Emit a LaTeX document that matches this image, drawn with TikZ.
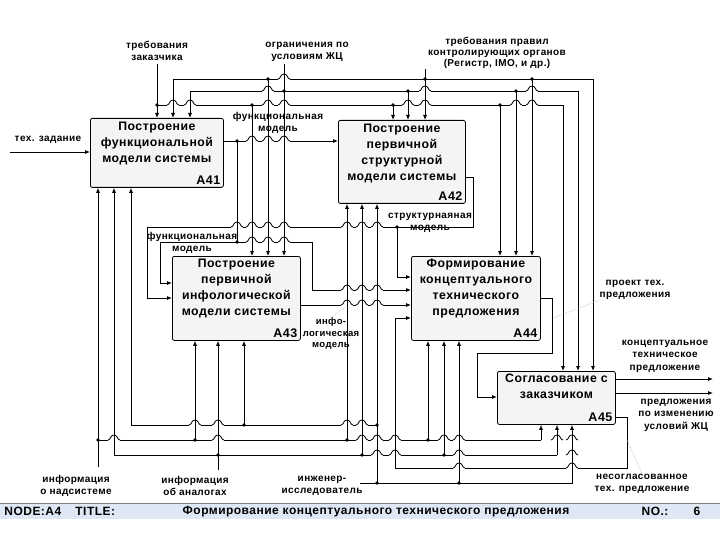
\documentclass[tikz,border=0pt]{standalone}
\usepackage{fontspec}
\setmainfont{Liberation Sans}[LetterSpace=4]
\usepackage{xcolor}
\usetikzlibrary{arrows.meta}
\usetikzlibrary{positioning}
\definecolor{band}{HTML}{DDE8F4}
\definecolor{boxfill}{HTML}{F4F4F4}

\tikzset{
  blk/.style={draw, fill=boxfill, rounded corners=2pt, anchor=north west, inner sep=0pt},
  ttl/.style={font=\fontsize{12.3}{15.8}\selectfont\bfseries, align=center, anchor=north, inner sep=0pt},
  anum/.style={font=\fontsize{12.5}{15}\selectfont\bfseries, anchor=south east, inner sep=3pt},
  lbl/.style={font=\fontsize{10}{12.5}\selectfont\bfseries, align=center, inner sep=0pt},
  ftr/.style={font=\fontsize{12}{14}\selectfont\bfseries, inner sep=0pt},
  arr/.style={-{Latex[length=5pt,width=4pt]}},
  lead/.style={gray!60, densely dotted, line width=0.6pt},
}

% bridge over a crossing line
\newcommand{\hmp}[2]{%
  \fill[white] ({#1-6},{#2-1.2}) rectangle ({#1+6},{#2+1.2});
  \draw ({#1-6},#2) .. controls ({#1-3},#2) and ({#1-4},{#2-5}) .. (#1,{#2-5})
        .. controls ({#1+4},{#2-5}) and ({#1+3},#2) .. ({#1+6},#2);
  \draw (#1,{#2-8}) -- (#1,{#2+3});}

\begin{document}
\begin{tikzpicture}[x=1pt, y=-1pt, line width=0.8pt]
  \useasboundingbox (0,0) rectangle (720,540);

  %boxes
  \node[blk, minimum width=133pt, minimum height=69pt] (A41) at (90,118) {};
  \node[blk, minimum width=127pt, minimum height=83pt] (A42) at (338,120) {};
  \node[blk, minimum width=128pt, minimum height=84pt] (A43) at (172,256) {};
  \node[blk, minimum width=129pt, minimum height=84pt] (A44) at (411,256) {};
  \node[blk, minimum width=118pt, minimum height=53pt] (A45) at (497,371) {};

  \node[ttl, below=4pt of A41.north] (t41) {Построение\\функциональной\\модели системы};
  \node[ttl, below=4pt of A42.north] (t42) {Построение\\первичной\\структурной\\модели системы};
  \node[ttl, below=3pt of A43.north] (t43) {Построение\\первичной\\инфологической\\модели системы};
  \node[ttl, below=3pt of A44.north] (t44) {Формирование\\концептуального\\технического\\предложения};
  \node[ttl, below=3pt of A45.north] (t45) {Согласование с\\заказчиком};
  \foreach \b in {41,42,43,44,45}
    \node[anum] (n\b) at (A\b.south east) {A\b};

  %controls
  \draw (157,64) -- (157,105) -- (563,105);
  \draw (173,79) -- (593,79);
  \draw (425,69) -- (425,79);
  \draw (284,64) -- (284,91);
  \draw (190,91) -- (578,91);
  \foreach \x/\b in {157/A41, 252/A43, 393/A42, 500/A44, 563/A45}
    \draw[arr] (\x,105) -- (\x,0 |- \b.north);
  \foreach \x/\b in {173/A41, 268/A43, 425/A42, 532/A44, 593/A45}
    \draw[arr] (\x,79) -- (\x,0 |- \b.north);
  \foreach \x/\b in {190/A41, 284/A43, 408/A42, 516/A44, 578/A45}
    \draw[arr] (\x,91) -- (\x,0 |- \b.north);

  %inputs and outputs
  \draw[arr] (10,152) -- (A41.west |- 0,152);
  \draw[arr] (A41.east |- 0,141) -- (A42.west |- 0,141);
  \draw (237,141) -- (237,242);
  \draw (312,242) -- (160,242);
  \draw[arr] (160,242) -- (160,283) -- (A43.west |- 0,283);
  \draw[arr] (312,242) -- (312,290) -- (A44.west |- 0,290);
  \draw (A42.east |- 0,177) -- (473,177) -- (473,227) -- (147,227);
  \draw[arr] (147,227) -- (147,298) -- (A43.west |- 0,298);
  \draw[arr] (397,227) -- (397,277) -- (A44.west |- 0,277);
  \draw[arr] (A43.east |- 0,305) -- (A44.west |- 0,305);
  \draw[arr] (A44.east |- 0,298) -- (552,298) -- (552,353) -- (477,353) -- (477,397) -- (A45.west |- 0,397);
  \draw[arr] (A45.east |- 0,379) -- (713,379);
  \draw[arr] (A45.east |- 0,393) -- (713,393);
  \draw[arr] (A45.east |- 0,417) -- (627,417) -- (627,468) -- (395,468) -- (395,318) -- (A44.west |- 0,318);

  %mechanisms
  \draw[arr] (377,425) -- (131,425) -- (131,0 |- A41.south);
  \draw[arr] (244,425) -- (244,0 |- A43.south);
  \draw[arr] (360,483) -- (377,483) -- (377,0 |- A42.south);
  \draw[arr] (377,483) -- (572,483) -- (572,0 |- A45.south);
  \draw[arr] (459,483) -- (459,0 |- A44.south);
  \draw (98,467) -- (98,440) -- (541,440);
  \foreach \x/\b in {98/A41, 195/A43, 347/A42, 428/A44, 541/A45}
    \draw[arr] (\x,440) -- (\x,0 |- \b.south);
  \draw (218,470) -- (218,455);
  \draw (114,455) -- (557,455);
  \foreach \x/\b in {114/A41, 218/A43, 362/A42, 444/A44, 557/A45}
    \draw[arr] (\x,455) -- (\x,0 |- \b.south);

  %bridges
  \foreach \x/\y in {284/79, 268/91, 425/91, 532/91,
      173/105, 190/105, 268/105, 284/105, 408/105, 425/105, 516/105, 532/105,
      252/141, 268/141, 284/141,
      237/227, 252/227, 268/227, 284/227, 347/227, 362/227, 377/227,
      252/242, 268/242, 284/242,
      347/290, 362/290, 377/290, 347/305, 362/305, 377/305,
      195/425, 218/425, 347/425, 362/425,
      114/440, 218/440, 362/440, 377/440, 395/440, 444/440, 459/440, 557/440, 572/440,
      377/455, 395/455, 459/455, 572/455, 459/468, 572/468}
    {\hmp{\x}{\y}}

  %junctions
  \foreach \x/\y in {157/105, 252/105, 393/105, 500/105, 268/79, 425/79, 532/79,
      284/91, 408/91, 516/91, 237/141, 237/242, 397/227,
      244/425, 377/425, 377/483, 459/483, 98/440, 195/440, 347/440, 428/440,
      218/455, 362/455, 444/455}
    \fill (\x,\y) circle (1.8pt);

  %labels
  \node[lbl] (lzak) at (157,51) {требования\\заказчика};
  \node[lbl] (lzhc) at (307,52) {ограничения по\\условиям ЖЦ};
  \node[lbl, font=\fontsize{10}{11}\selectfont\bfseries] (lreg) at (497,53) {требования правил\\контролирующих органов\\(Регистр, IMO, и др.)};
  \node[lbl] (ltz) at (48,140) {тех. задание};
  \node[lbl] (lfm) at (278,123) {функциональная\\модель};
  \node[lbl] (lsm) at (430,223) {структурнаяная\\модель};
  \node[lbl] (lfn) at (192,243) {функциональная\\модель};
  \node[lbl, font=\fontsize{9.5}{11.5}\selectfont\bfseries] (lim) at (331,334) {инфо-\\логическая\\модель};
  \node[lbl] (lpr) at (635,290) {проект тех.\\предложения};
  \node[lbl] (lkt) at (665,356) {концептуальное\\техническое\\предложение};
  \node[lbl] (lizm) at (676,415) {предложения\\по изменению\\условий ЖЦ};
  \node[lbl] (lnes) at (642,484) {несогласованное\\тех. предложение};
  \node[lbl] (lnad) at (76,486) {информация\\о надсистеме};
  \node[lbl] (lan) at (195,486) {информация\\об аналогах};
  \node[lbl] (ling) at (322,486) {инженер-\\исследователь};
  \draw[lead] (553,318) -- (lpr.south west);
  \draw[lead] (627,440) -- (lnes.north);
  \draw[lead] (345,307) -- (lim.north);

  %footer
  \fill[band] (0,504) rectangle (720,519);
  \draw[gray, line width=1pt] (0,503) -- (720,503);
  \node[ftr, anchor=west] (fnode) at (4,511.5) {NODE:A4};
  \node[ftr, anchor=west] (ftit) at (75,511.5) {TITLE:};
  \node[ftr] (fname) at (376,511.5) {Формирование концептуального технического предложения};
  \node[ftr] (fno) at (655,511.5) {NO.:};
  \node[ftr] (fnum) at (697,511.5) {6};
\end{tikzpicture}
\end{document}
